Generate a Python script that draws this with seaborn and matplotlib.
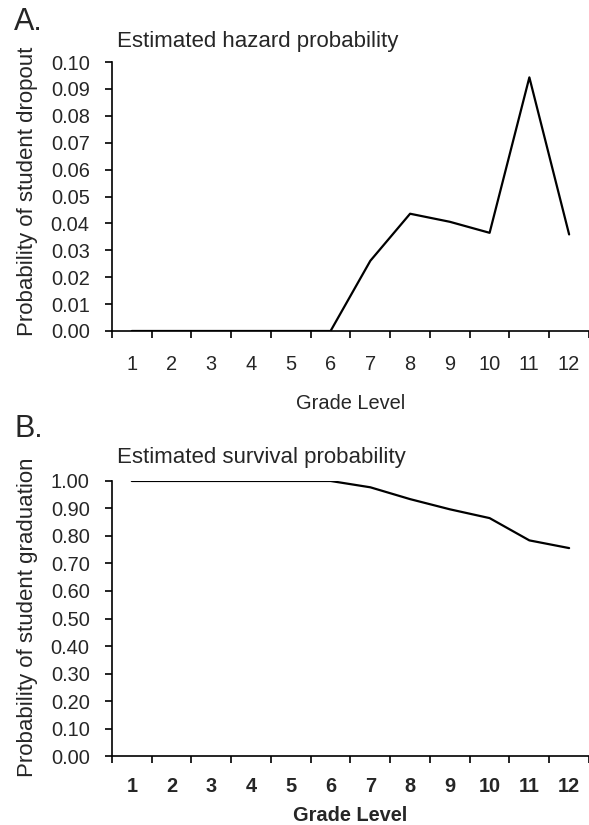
"""
Estimated hazard and survival probability of student dropout by grade level.
"""

import numpy as np
import pandas as pd
import matplotlib
matplotlib.use("Agg")
import matplotlib.pyplot as plt
import seaborn as sns

# Data
grades = list(range(1, 13))
hazard = [0.0, 0.0, 0.0, 0.0, 0.0, 0.0, 0.0261, 0.0436, 0.0406, 0.0365, 0.0943, 0.0359]
survival = [1.0, 1.0, 1.0, 1.0, 1.0, 1.0, 0.977, 0.934, 0.897, 0.865, 0.784, 0.756]

hazard_ticks = [0.00, 0.01, 0.02, 0.03, 0.04, 0.05, 0.06, 0.07, 0.08, 0.09, 0.10]
survival_ticks = [0.00, 0.10, 0.20, 0.30, 0.40, 0.50, 0.60, 0.70, 0.80, 0.90, 1.00]

df = pd.DataFrame({"Grade": grades, "Hazard": hazard, "Survival": survival})

sns.set_style("ticks")
plt.rcParams["font.family"] = ["Liberation Sans", "DejaVu Sans"]

fig = plt.figure(figsize=(5.89, 8.25), dpi=100)
ax_a = fig.add_axes([0.190, 0.5988, 0.810, 0.3260])
ax_b = fig.add_axes([0.190, 0.0836, 0.810, 0.3334])


def style_axis(ax, ticks, bold=False, xpad=17, labelpad=15):
    weight = "bold" if bold else "normal"
    ax.set_xlim(0.5, 12.5)
    ax.set_ylim(ticks[0], ticks[-1])
    ax.set_yticks(ticks)
    ax.set_yticklabels([f"{t:.2f}" for t in ticks], fontsize=14.4)
    # category axis: ticks at the boundaries, labels in the middle
    ax.set_xticks(np.arange(0.5, 13.0, 1.0))
    ax.set_xticklabels([])
    ax.set_xticks(grades, minor=True)
    ax.set_xticklabels([str(g) for g in grades], minor=True, fontsize=14.4, fontweight=weight)
    ax.tick_params(axis="x", which="major", length=5, width=1.2, color="black", direction="out")
    ax.tick_params(axis="x", which="minor", length=0, pad=xpad)
    ax.tick_params(axis="y", length=5, width=1.2, color="black", pad=11)
    for side in ["top", "right"]:
        ax.spines[side].set_visible(False)
    for side in ["left", "bottom"]:
        ax.spines[side].set_color("black")
        ax.spines[side].set_linewidth(1.2)
    ax.set_xlabel("Grade Level", fontsize=14.4, fontweight=weight, labelpad=labelpad)


sns.lineplot(data=df, x="Grade", y="Hazard", ax=ax_a, color="black", linewidth=1.6)
style_axis(ax_a, hazard_ticks)
ax_a.set_ylabel("Probability of student dropout", fontsize=16)
ax_a.yaxis.set_label_coords(-0.155, 0.52)

sns.lineplot(data=df, x="Grade", y="Survival", ax=ax_b, color="black", linewidth=1.6)
style_axis(ax_b, survival_ticks, bold=True, xpad=15, labelpad=7)
ax_b.set_ylabel("Probability of student graduation", fontsize=16)
ax_b.yaxis.set_label_coords(-0.155, 0.505)

fig.text(0.199, 1 - 42 / 825, "Estimated hazard probability", fontsize=16, va="center", ha="left")
fig.text(0.199, 1 - 457 / 825, "Estimated survival probability", fontsize=16, va="center", ha="left")
fig.text(0.024, 1 - 22 / 825, "A.", fontsize=22, va="center", ha="left")
fig.text(0.024, 1 - 429 / 825, "B.", fontsize=22, va="center", ha="left")

fig.savefig("out.png", dpi=100)
